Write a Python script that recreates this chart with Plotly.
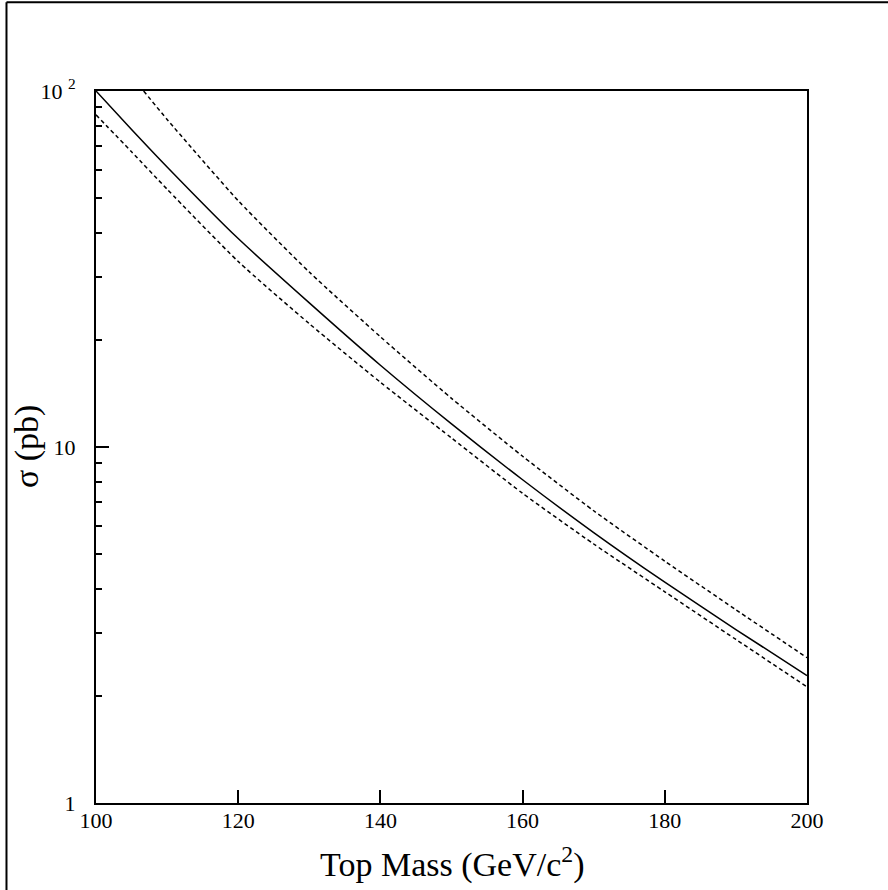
import plotly.graph_objects as go

# Top mass (GeV/c^2)
mass = [100, 105, 110, 120, 130, 140, 150, 160, 170, 180, 190, 200]
sigma_central = [100, 78.0, 61.2, 38.5, 25.4, 16.97, 11.61, 8.09, 5.75, 4.17, 3.07, 2.28]
mass_upper = [106.7, 110, 120, 130, 140, 150, 160, 170, 180, 190, 200]
sigma_upper = [100, 83.2, 49.2, 31.0, 20.4, 13.7, 9.42, 6.62, 4.78, 3.49, 2.56]
sigma_lower = [85.7, 67.5, 53.0, 33.2, 22.2, 15.2, 10.6, 7.41, 5.34, 3.92, 2.88, 2.12]

x_ticks = [100, 120, 140, 160, 180, 200]
y_ticks = [1, 10, 100]
y_ticktext = ["1", "10", "10 <sup>2</sup>"]
y_minor = [2, 3, 4, 5, 6, 7, 8, 9, 20, 30, 40, 50, 60, 70, 80, 90]

font = "Liberation Serif, Times New Roman, serif"

fig = go.Figure()
fig.add_trace(go.Scatter(x=mass, y=sigma_central, mode="lines", hoverinfo="skip",
                         line=dict(color="black", width=1.5, shape="spline", smoothing=0.6)))
fig.add_trace(go.Scatter(x=mass_upper, y=sigma_upper, mode="lines", hoverinfo="skip",
                         line=dict(color="black", width=1.5, dash="4px,3px",
                                   shape="spline", smoothing=0.6)))
fig.add_trace(go.Scatter(x=mass, y=sigma_lower, mode="lines", hoverinfo="skip",
                         line=dict(color="black", width=1.5, dash="4px,3px",
                                   shape="spline", smoothing=0.6)))

fig.update_layout(
    width=888, height=890,
    margin=dict(l=96, r=81, t=91, b=87),
    paper_bgcolor="white", plot_bgcolor="white",
    showlegend=False,
    font=dict(family=font, color="black", size=22),
    xaxis=dict(
        range=[100, 200], tickvals=x_ticks, ticks="inside", ticklen=13,
        tickwidth=1.5, tickcolor="black", showgrid=False, zeroline=False,
        showline=True, linecolor="black", linewidth=2, mirror=True,
        ticklabelstandoff=-3,
    ),
    yaxis=dict(
        type="log", range=[0, 2], tickvals=y_ticks, ticktext=y_ticktext,
        ticks="inside", ticklen=13, tickwidth=1.5, tickcolor="black",
        showgrid=False, zeroline=False,
        showline=True, linecolor="black", linewidth=2, mirror=True,
        ticklabelstandoff=14,
        minor=dict(tickvals=y_minor, ticks="inside", ticklen=6, tickwidth=1.5,
                   tickcolor="black", showgrid=False),
    ),
    annotations=[
        dict(text="Top Mass (GeV/c<sup>2</sup>)", xref="paper", yref="paper",
             x=0.5, y=-0.083, showarrow=False, font=dict(size=34),
             xanchor="center", yanchor="middle"),
        dict(text="σ (pb)", xref="paper", yref="paper", x=-0.097, y=0.5,
             textangle=-90, showarrow=False, font=dict(size=34),
             xanchor="center", yanchor="middle"),
    ],
    shapes=[
        dict(type="line", xref="paper", yref="paper", x0=-0.1259, x1=-0.1259,
             y0=-0.2, y1=1.1246, line=dict(color="black", width=2)),
        dict(type="line", xref="paper", yref="paper", x0=-0.1259, x1=1.2,
             y0=1.1246, y1=1.1246, line=dict(color="black", width=2)),
    ],
)

fig.write_html("out.html", config={"displayModeBar": False},
               post_script="document.body.style.margin='0';document.body.style.overflow='hidden';")
